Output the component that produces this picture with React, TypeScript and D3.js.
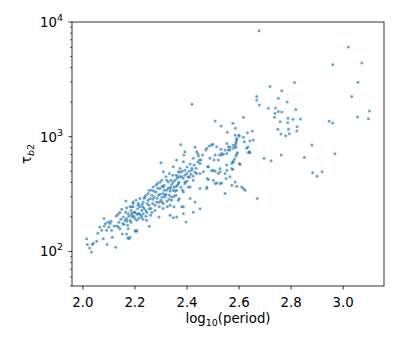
import React from "react";
import * as d3 from "d3";

// log10(period), tau_b2 pairs, grouped by region
const shortPeriod: [number, number][] = [
  [2.014, 129], [2.017, 115], [2.026, 107], [2.033, 99], [2.036, 115], [2.04, 118], [2.053, 123],
  [2.057, 144], [2.065, 163], [2.072, 153], [2.081, 194], [2.078, 129], [2.082, 167], [2.087, 175],
  [2.091, 153], [2.093, 115], [2.097, 181], [2.1, 163], [2.104, 175], [2.108, 183], [2.11, 153],
  [2.113, 133], [2.12, 167], [2.126, 109], [2.128, 204], [2.13, 167], [2.136, 163], [2.142, 158],
  [2.149, 233], [2.151, 142], [2.155, 200], [2.162, 187], [2.164, 220], [2.168, 240], [2.172, 169],
  [2.174, 158], [2.177, 129], [2.181, 133], [2.185, 228], [2.187, 207], [2.193, 245], [2.197, 220],
  [2.2, 194], [2.207, 150], [2.21, 236], [2.213, 213], [2.219, 245], [2.223, 207], [2.226, 228],
  [2.232, 213], [2.165, 275], [2.193, 270], [2.181, 245], [2.204, 153], [2.172, 131],
];

const mainBand: [number, number][] = [
  [2.153, 175], [2.168, 194], [2.174, 213], [2.181, 187], [2.187, 245], [2.191, 200], [2.193, 262],
  [2.2, 220], [2.204, 279], [2.207, 187], [2.213, 262], [2.217, 213], [2.219, 289], [2.226, 200],
  [2.23, 245], [2.232, 270], [2.238, 299], [2.242, 228], [2.245, 187], [2.247, 262], [2.251, 320],
  [2.255, 236], [2.258, 289], [2.26, 207], [2.264, 342], [2.268, 262], [2.27, 365], [2.273, 299],
  [2.277, 228], [2.281, 330], [2.283, 270], [2.286, 391], [2.29, 309], [2.293, 245], [2.296, 354],
  [2.299, 279], [2.303, 418], [2.307, 320], [2.309, 262], [2.312, 378], [2.315, 299], [2.319, 447],
  [2.322, 342], [2.324, 245], [2.328, 404], [2.332, 309], [2.335, 207], [2.337, 365], [2.341, 279],
  [2.345, 462], [2.347, 342], [2.35, 245], [2.354, 418], [2.358, 309], [2.36, 200], [2.363, 378],
  [2.367, 494], [2.37, 289], [2.373, 447], [2.38, 245], [2.383, 342], [2.386, 213], [2.392, 404],
  [2.396, 181], [2.399, 478], [2.405, 365], [2.2, 150], [2.168, 142],
];

const denseCore: [number, number][] = [
  [2.212, 253], [2.227, 258], [2.235, 237], [2.246, 219], [2.254, 253], [2.262, 237], [2.269, 285],
  [2.277, 253], [2.265, 219], [2.25, 279], [2.242, 203], [2.231, 191], [2.215, 195], [2.208, 211],
  [2.196, 203], [2.188, 215], [2.177, 203], [2.185, 180], [2.169, 183], [2.158, 172], [2.146, 191],
  [2.138, 180], [2.135, 211], [2.142, 219], [2.285, 291], [2.292, 268], [2.304, 297], [2.312, 342],
  [2.319, 316], [2.327, 356], [2.335, 335], [2.342, 386], [2.35, 363], [2.338, 418], [2.354, 335],
  [2.362, 435], [2.369, 402], [2.377, 363], [2.385, 435], [2.392, 462], [2.4, 410], [2.408, 444],
  [2.415, 471], [2.423, 453], [2.431, 491], [2.4, 544], [2.408, 501], [2.419, 532], [2.427, 566],
  [2.435, 532], [2.442, 601], [2.381, 501], [2.373, 491], [2.365, 453], [2.358, 370], [2.35, 303],
  [2.331, 285], [2.323, 274], [2.308, 237], [2.296, 316], [2.288, 356], [2.281, 378], [2.273, 335],
  [2.265, 309], [2.242, 309], [2.235, 291], [2.254, 342], [2.304, 370], [2.296, 402],
  [2.424, 220], [2.347, 197], [2.292, 200], [2.255, 166],
];

const upperBand: [number, number][] = [
  [2.376, 851], [2.431, 808], [2.476, 792], [2.495, 846], [2.514, 818], [2.553, 875], [2.392, 740],
  [2.388, 692], [2.437, 740], [2.46, 692], [2.508, 692], [2.533, 692], [2.559, 765], [2.424, 649],
  [2.447, 626], [2.488, 649], [2.52, 626], [2.3, 592], [2.36, 626], [2.386, 605], [2.412, 578],
  [2.45, 585], [2.482, 547], [2.501, 511], [2.527, 529], [2.553, 566], [2.347, 547], [2.373, 529],
  [2.392, 511], [2.418, 511], [2.437, 478], [2.463, 494], [2.52, 478], [2.546, 478], [2.309, 494],
  [2.332, 478], [2.358, 462], [2.38, 447], [2.405, 447], [2.424, 418], [2.482, 424], [2.508, 391],
  [2.533, 396], [2.322, 418], [2.347, 404], [2.367, 391], [2.392, 391], [2.412, 365], [2.45, 354],
  [2.476, 354], [2.546, 320], [2.309, 365], [2.335, 354], [2.36, 342], [2.386, 330], [2.412, 289],
  [2.431, 270], [2.315, 309], [2.341, 299], [2.367, 279], [2.303, 270], [2.335, 253], [2.386, 245],
  [2.45, 236],
];

const midBranch: [number, number][] = [
  [2.617, 1477], [2.508, 1372], [2.531, 1241], [2.576, 1310], [2.555, 1094], [2.585, 1035],
  [2.601, 1014], [2.617, 990], [2.632, 1084], [2.651, 1122], [2.62, 905], [2.642, 923], [2.655, 936],
  [2.486, 829], [2.499, 858], [2.472, 765], [2.53, 776], [2.559, 818], [2.578, 841], [2.588, 808],
  [2.629, 792], [2.636, 724], [2.642, 730], [2.524, 692], [2.533, 716], [2.54, 702], [2.553, 716],
  [2.454, 626], [2.504, 626], [2.576, 605], [2.582, 635], [2.601, 585], [2.696, 649], [2.48, 547],
  [2.495, 504], [2.508, 501], [2.527, 494], [2.553, 511], [2.572, 529], [2.45, 478], [2.478, 433],
  [2.501, 418], [2.514, 396], [2.527, 391], [2.55, 433], [2.565, 447], [2.585, 404], [2.591, 370],
  [2.61, 365], [2.617, 354], [2.476, 365],
];

const longPeriod: [number, number][] = [
  [2.719, 2738], [2.764, 2511], [2.813, 2965], [2.668, 2239], [2.668, 2094], [2.678, 1894],
  [2.751, 2167], [2.785, 2011], [2.713, 1772], [2.74, 1784], [2.818, 1724], [2.738, 1602],
  [2.751, 1656], [2.764, 1645], [2.736, 1477], [2.788, 1449], [2.807, 1420], [2.836, 1429],
  [2.758, 1353], [2.787, 1322], [2.823, 1224], [2.586, 1185], [2.749, 1162], [2.79, 1162],
  [2.822, 1122], [2.761, 1056], [2.779, 1020], [2.793, 1062], [2.591, 936], [2.588, 875],
  [2.585, 834], [2.578, 792], [2.565, 765], [2.594, 724], [2.588, 678], [2.578, 605], [2.572, 585],
  [2.576, 518], [2.604, 574], [2.723, 617], [2.762, 692], [2.851, 660],
  [3.02, 6056], [2.96, 4240], [3.072, 4389], [3.057, 2990], [3.033, 2239], [3.101, 1679],
  [3.055, 1487], [3.097, 1437], [2.946, 1364], [2.96, 1318], [2.88, 846], [2.968, 711],
  [2.883, 485], [2.9, 453], [2.919, 494],
  [2.67, 289], [2.623, 342], [2.572, 378],
  [2.419, 1921], [2.677, 8410], [2.442, 711], [2.444, 679], [2.591, 969], [2.599, 1030],
  [2.588, 905], [2.565, 808], [2.546, 765], [2.634, 812], [2.639, 740], [2.591, 706],
];

const points = [...shortPeriod, ...mainBand, ...denseCore, ...upperBand, ...midBranch, ...longPeriod];

const xTicks = [2.0, 2.2, 2.4, 2.6, 2.8, 3.0];
const yMajorExp = [2, 3, 4];

const W = 399;
const H = 349;
const margin = { left: 72, right: 15, top: 22, bottom: 63 };
const font = "DejaVu Sans, sans-serif";

export default function App() {
  const x = d3.scaleLinear().domain([1.958, 3.157]).range([margin.left, W - margin.right]);
  const y = d3.scaleLog().domain([50, 10000]).range([H - margin.bottom, margin.top]);
  const [x0, x1] = x.range();
  const [y0, y1] = y.range();

  const minor = y.ticks().filter((t) => Math.abs(Math.log10(t) % 1) > 1e-6);

  return (
    <svg
      width={W}
      height={H}
      style={{ position: "absolute", left: 0, top: 0, background: "#fff" }}
      fontFamily={font}
    >
      <g>
        {points.map(([px, t], i) => (
          <circle key={i} cx={x(px)} cy={y(t)} r={1.5} fill="#1f77b4" fillOpacity={0.65} />
        ))}
      </g>

      <rect x={x0} y={y1} width={x1 - x0} height={y0 - y1} fill="none" stroke="#000" strokeWidth={0.8} />

      {xTicks.map((t) => (
        <g key={t}>
          <line x1={x(t)} x2={x(t)} y1={y0} y2={y0 + 3.5} stroke="#000" strokeWidth={0.8} />
          <text x={x(t)} y={y0 + 20.5} fontSize={13.3} textAnchor="middle" fill="#000">
            {t.toFixed(1)}
          </text>
        </g>
      ))}

      {minor.map((t) => (
        <line key={t} x1={x0 - 2} x2={x0} y1={y(t)} y2={y(t)} stroke="#000" strokeWidth={0.6} />
      ))}

      {yMajorExp.map((e) => (
        <g key={e}>
          <line x1={x0 - 3.5} x2={x0} y1={y(10 ** e)} y2={y(10 ** e)} stroke="#000" strokeWidth={0.8} />
          <text x={x0 - 9} y={y(10 ** e) + 4.8} fontSize={13.3} textAnchor="end" fill="#000">
            10
            <tspan fontSize={9.5} dy={-6}>
              {e}
            </tspan>
          </text>
        </g>
      ))}

      <text x={(x0 + x1) / 2} y={y0 + 37} fontSize={13.3} textAnchor="middle" fill="#000">
        log
        <tspan fontSize={9.5} dy={3}>
          10
        </tspan>
        <tspan dy={-3}>(period)</tspan>
      </text>

      <text
        transform={`translate(31, ${(y0 + y1) / 2}) rotate(-90)`}
        fontSize={13.3}
        textAnchor="middle"
        fill="#000"
      >
        τ
        <tspan fontSize={9.5} dy={3} fontStyle="italic">
          b
        </tspan>
        <tspan fontSize={9.5}>2</tspan>
      </text>
    </svg>
  );
}
